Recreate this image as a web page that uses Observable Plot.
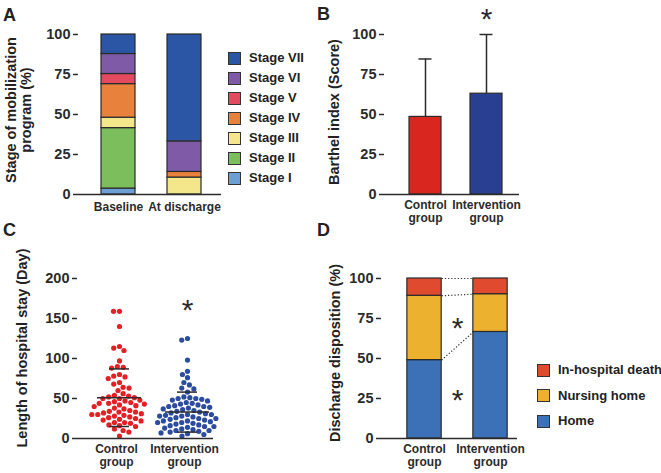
<!DOCTYPE html>
<html><head><meta charset="utf-8">
<script src="https://cdn.jsdelivr.net/npm/d3@7"></script>
<script src="https://cdn.jsdelivr.net/npm/@observablehq/plot@0.6"></script>
<style>
body{margin:0;background:#fff;}
#fig{position:relative;width:661px;height:473px;overflow:hidden;font-family:"Liberation Sans",Arial,Helvetica,sans-serif;font-weight:bold;color:#222;}
#fig .abs{position:absolute;}
.letter{position:absolute;font-size:18px;line-height:1;}
.ytitle{position:absolute;font-size:14.5px;line-height:15px;white-space:nowrap;text-align:center;transform:translate(-50%,-50%) rotate(-90deg);}
.legtxt{position:absolute;font-size:13px;line-height:16px;white-space:nowrap;}
.sw{position:absolute;box-sizing:border-box;border:1px solid #333;}
</style>
</head><body>
<div id="fig"></div>
<script>
// ---------- DATA ----------
// Panel A
const stages = ["Stage I","Stage II","Stage III","Stage IV","Stage V","Stage VI","Stage VII"];
const stageColors = ["#6b9fd6","#7cbd5c","#f3e68b","#e8813c","#e34a5f","#7f5ba7","#2a56a5"];
const timepoints = ["Baseline","At discharge"];
const baselinePct = [3.7, 37.8, 6.5, 21.0, 6.3, 12.5, 12.2];
const dischargePct = [0, 0, 10.6, 3.5, 0, 19.1, 66.8];
const pctTicks = [0, 25, 50, 75, 100];

// Panel B
const groups = ["Control group","Intervention group"];
const groupLabels = ["Control\ngroup","Intervention\ngroup"];
const barthelMean = [48.5, 63];
const barthelSD = [36.2, 37];
const barthelSig = ["", "*"];
const barthelColors = ["#d9261f","#283f92"];

// Panel C
const controlStay = [159,159,140,115,113,110,97,90,89,88,80,78,77,75,70,68,64,63,60,56,54,53,52,51,50,50,48,47,46,45,44,44,43,42,41,40,38,37,35,34,33,33,32,31,30,30,29,28,27,26,25,24,23,22,20,20,19,17,16,15,12,10,8,3];
const interventionStay = [125,123,98,84,80,76,70,67,63,62,58,52,51,50,50,49,48,47,45,44,43,42,41,40,40,39,38,37,36,35,34,33,32,31,30,30,29,28,28,27,26,25,25,24,23,22,22,21,20,20,19,18,17,16,15,15,14,13,12,11,10,10,9,8,7,6,5,3];
const stayMean = [51, 33];
const staySD = [36, 25];
const staySig = ["", "*"];
const stayColors = ["#e41f26","#2b4c9f"];
const stayTicks = [0, 50, 100, 150, 200];

// Panel D
const dispositions = ["Home","Nursing home","In-hospital death"];
const dispColors = ["#3c70b7","#ecb12f","#e04a2f"];
const controlDisp = [49, 40.2, 10.8];
const interventionDisp = [66.6, 23.6, 9.8];
const dispSig = ["*", "*", ""];

// ---------- STYLE ----------
const ink = "#2b2b2b";
const font = '"Liberation Sans", Arial, Helvetica, sans-serif';
const baseStyle = {fontFamily: font, fontWeight: "bold", fontSize: "14px", color: ink, background: "transparent", overflow: "visible"};
const fig = document.getElementById("fig");

function place(node, left, top) {
  const d = document.createElement("div");
  d.className = "abs";
  d.style.left = left + "px"; d.style.top = top + "px";
  d.appendChild(node); fig.appendChild(d);
}
function html(cls, text, css) {
  const d = document.createElement("div");
  d.className = cls; d.textContent = text;
  Object.assign(d.style, css); fig.appendChild(d); return d;
}
function letter(t, left, capTop) { html("letter", t, {left: left + "px", top: (capTop - 2.4) + "px"}); }
function ytitle(t, cx, cy) {
  const d = html("ytitle", "", {left: cx + "px", top: cy + "px"});
  t.split("\n").forEach(line => { const s = document.createElement("div"); s.textContent = line; d.appendChild(s); });
}
function legend(items, colors, swLeft, txtLeft, cy0, step, size) {
  items.forEach((it, i) => {
    const cy = cy0 + i * step;
    html("sw", "", {left: swLeft + "px", top: (cy - size / 2) + "px", width: size + "px", height: size + "px", background: colors[i]});
    html("legtxt", it, {left: txtLeft + "px", top: (cy - 8) + "px"});
  });
}
const fmtGroup = g => groupLabels[groups.indexOf(g)];
const yAxis = ticks => Plot.axisY({ticks, tickSize: 5, tickPadding: 3, label: null, strokeWidth: 1.5, line: true, fontSize: 14.5});
const xLab = {tickSize: 0, tickPadding: 5, label: null, fontSize: 12, lineHeight: 1.1};

// ---------- PANEL A ----------
const rowsA = [];
timepoints.forEach((t, ti) => {
  const vals = ti === 0 ? baselinePct : dischargePct;
  stages.forEach((s, si) => { if (vals[si] > 0) rowsA.push({time: t, stage: s, value: vals[si]}); });
});
place(Plot.plot({
  width: 224, height: 230, marginLeft: 78, marginRight: 3, marginTop: 34, marginBottom: 36,
  style: baseStyle,
  x: {domain: timepoints, paddingInner: 0.49, paddingOuter: 0.323, align: 0.52},
  y: {domain: [0, 100]},
  color: {domain: stages, range: stageColors},
  marks: [
    Plot.barY(rowsA, {x: "time", y: "value", fill: "stage", stroke: ink, strokeWidth: 1.2}),
    Plot.ruleY([0], {stroke: ink, strokeWidth: 1.5}),
    yAxis(pctTicks),
    Plot.axisX({...xLab, tickPadding: 7})
  ]
}), 0, 0);
legend(stages.slice().reverse(), stageColors.slice().reverse(), 228, 249, 58, 20, 13);
ytitle("Stage of mobilization\nprogram (%)", 18.5, 110);
letter("A", 3, 8);

// ---------- PANEL B ----------
const rowsB = groups.map((g, i) => ({group: g, mean: barthelMean[i], sd: barthelSD[i], sig: barthelSig[i]}));
place(Plot.plot({
  width: 190, height: 230, marginLeft: 54, marginRight: 1, marginTop: 34, marginBottom: 36,
  style: baseStyle,
  x: {domain: groups, paddingInner: 0.475, paddingOuter: 0.344, align: 0.6},
  y: {domain: [0, 100]},
  color: {domain: groups, range: barthelColors},
  marks: [
    Plot.ruleX(rowsB, {x: "group", y1: "mean", y2: d => d.mean + d.sd, stroke: ink, strokeWidth: 1.5}),
    Plot.tickY(rowsB, {x: "group", y: d => d.mean + d.sd, insetLeft: 9.5, insetRight: 9.5, stroke: ink, strokeWidth: 1.5}),
    Plot.barY(rowsB, {x: "group", y: "mean", fill: "group", stroke: ink, strokeWidth: 1.2}),
    Plot.text(rowsB.filter(d => d.sig), {x: "group", y: d => d.mean + d.sd, text: "sig", dy: -15, fontSize: 30, fontWeight: "normal", fill: ink}),
    Plot.ruleY([0], {stroke: ink, strokeWidth: 1.5}),
    yAxis(pctTicks),
    Plot.axisX({...xLab, tickFormat: fmtGroup})
  ]
}), 330, 0);
ytitle("Barthel index (Score)", 334, 112);
letter("B", 317, 7);

// ---------- PANEL C ----------
const stayRows = [
  ...controlStay.map(v => ({group: groups[0], days: v})),
  ...interventionStay.map(v => ({group: groups[1], days: v}))
];
const stayStats = groups.map((g, i) => ({
  group: g, mean: stayMean[i], sd: staySD[i], sig: staySig[i],
  top: d3.max(i === 0 ? controlStay : interventionStay)
}));
const shift = 8;
place(Plot.plot({
  width: 216, height: 243, marginLeft: 77, marginRight: 3, marginTop: 48, marginBottom: 35,
  style: baseStyle,
  fx: {domain: groups, padding: 0, label: null},
  y: {domain: [0, 200]},
  color: {domain: groups, range: stayColors},
  marks: [
    Plot.dot(stayRows, Plot.dodgeX({anchor: "middle", padding: 0.8}, {fx: "group", y: "days", r: 2.6, fill: "group", dx: shift})),
    Plot.ruleX(stayStats, {fx: "group", y1: d => d.mean - d.sd, y2: d => d.mean + d.sd, dx: shift, stroke: ink, strokeWidth: 1.5}),
    Plot.tickY(stayStats, {fx: "group", y: "mean", insetLeft: 12, insetRight: 12, dx: shift, stroke: ink, strokeWidth: 1.5}),
    Plot.tickY(stayStats, {fx: "group", y: d => d.mean + d.sd, insetLeft: 24, insetRight: 24, dx: shift, stroke: ink, strokeWidth: 1.5}),
    Plot.tickY(stayStats, {fx: "group", y: d => d.mean - d.sd, insetLeft: 24, insetRight: 24, dx: shift, stroke: ink, strokeWidth: 1.5}),
    Plot.text(stayStats.filter(d => d.sig), {fx: "group", y: "top", text: "sig", dx: shift, dy: -28, fontSize: 30, fontWeight: "normal", fill: ink}),
    Plot.ruleY([0], {stroke: ink, strokeWidth: 1.5}),
    yAxis(stayTicks),
    Plot.axisFx({...xLab, anchor: "bottom", tickFormat: fmtGroup, dx: 5})
  ]
}), 0, 230);
ytitle("Length of hospital stay (Day)", 22, 348);
letter("C", 3, 223);

// ---------- PANEL D ----------
const barHalf = 0.26;
const dispRows = [];
const dispCum = groups.map((g, gi) => {
  const vals = gi === 0 ? controlDisp : interventionDisp;
  let c = 0;
  return vals.map((v, j) => {
    const y1 = c; c += v;
    dispRows.push({gi, disp: dispositions[j], y1, y2: c});
    return c;
  });
});
const dispLinks = dispositions.map((d, j) => ({y1: dispCum[0][j], y2: dispCum[1][j]}));
const dispSigRows = dispositions.map((d, j) => {
  const mid = gi => {
    const cum = dispCum[gi]; const lo = j === 0 ? 0 : cum[j - 1];
    return (lo + cum[j]) / 2;
  };
  return {sig: dispSig[j], y: (mid(0) + mid(1)) / 2};
}).filter(d => d.sig);
place(Plot.plot({
  width: 190, height: 243, marginLeft: 51, marginRight: 3, marginTop: 48, marginBottom: 35,
  style: baseStyle,
  x: {domain: [-0.652, 1.409]},
  y: {domain: [0, 100]},
  color: {domain: dispositions, range: dispColors},
  marks: [
    Plot.rect(dispRows, {x1: d => d.gi - barHalf, x2: d => d.gi + barHalf, y1: "y1", y2: "y2", fill: "disp", stroke: ink, strokeWidth: 1.2}),
    Plot.link(dispLinks, {x1: () => barHalf, x2: () => 1 - barHalf, y1: "y1", y2: "y2", stroke: ink, strokeWidth: 1.2, strokeDasharray: "1.2,2"}),
    Plot.text(dispSigRows, {x: () => 0.5, y: "y", text: "sig", dy: 8, fontSize: 30, fontWeight: "normal", fill: ink}),
    Plot.ruleY([0], {stroke: ink, strokeWidth: 1.5}),
    yAxis(pctTicks),
    Plot.axisX({...xLab, ticks: [0, 1], tickFormat: i => groupLabels[i]})
  ]
}), 330, 230);
legend(dispositions.slice().reverse(), dispColors.slice().reverse(), 537, 558, 370, 25.5, 13);
ytitle("Discharge disposition (%)", 335, 353);
letter("D", 317, 223);
</script>
</body></html>
